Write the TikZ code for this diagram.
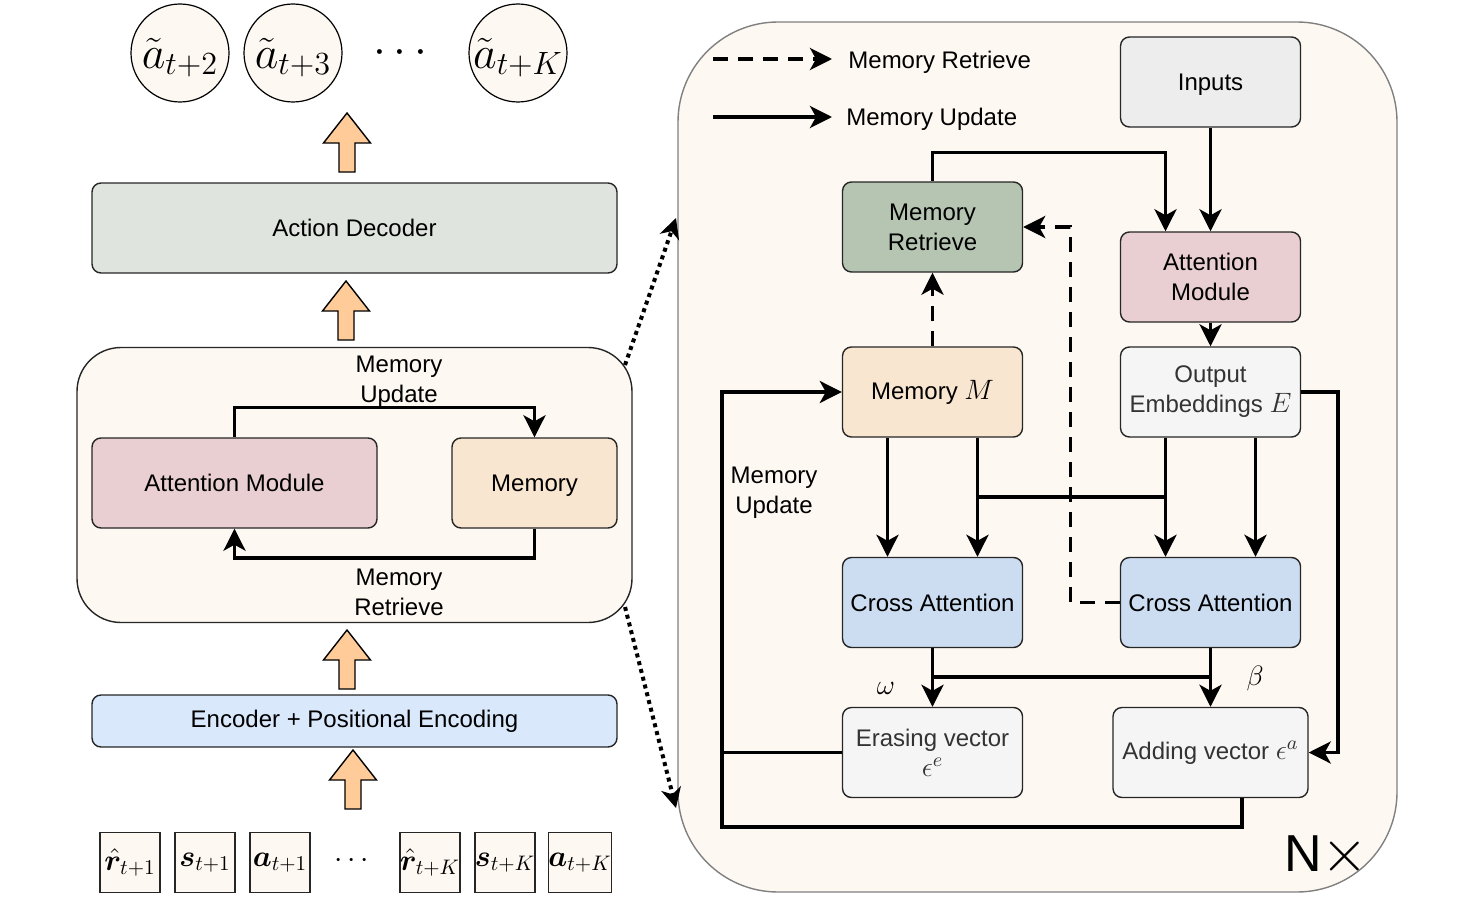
\RequirePackage{fix-cm}
\documentclass[tikz,border=0pt]{standalone}
\usepackage{amsmath}
\usepackage{bm}
\usepackage{fontspec}
\setmainfont{Liberation Sans}
\usetikzlibrary{arrows.meta}
\definecolor{cream}{HTML}{FDF8F1}
\definecolor{decfill}{HTML}{DFE5DE}
\definecolor{pinkfill}{HTML}{E9CFD2}
\definecolor{memfill}{HTML}{F9E6D0}
\definecolor{retfill}{HTML}{B5C5B2}
\definecolor{cafill}{HTML}{CCDDF2}
\definecolor{encfill}{HTML}{DAE8FC}
\definecolor{inpfill}{HTML}{EDEDED}
\definecolor{grayfill}{HTML}{F5F5F5}
\definecolor{arrfill}{HTML}{FFCC99}
\definecolor{bigedge}{HTML}{808080}
\newcommand{\boxmath}[1]{{\fontsize{14}{15}\selectfont$#1$}}
\tikzset{
  box/.style={draw=black!85, line width=0.7pt, rounded corners=4.5pt, align=center,
    font=\fontsize{12}{15}\selectfont, inner sep=0pt, minimum width=90pt, minimum height=45pt},
  token/.style={draw=black!85, line width=0.7pt, fill=cream, inner sep=0pt,
    minimum width=30pt, minimum height=30pt, font=\fontsize{15}{18}\selectfont},
  outc/.style={draw=black, line width=0.6pt, fill=cream, circle, inner sep=0pt,
    minimum size=49pt, font=\fontsize{23}{27}\selectfont, text depth=0pt},
  tip/.style={-{Stealth[length=11pt,width=11pt,inset=3pt]}},
  conn/.style={line width=1.8pt, tip},
  plain/.style={line width=1.8pt},
  dconn/.style={line width=1.8pt, dash pattern=on 7.5pt off 5pt, tip},
  dotconn/.style={line width=2pt, dash pattern=on 2pt off 2pt, -{Stealth[length=10pt,width=10pt,inset=3pt]}},
  lbl/.style={align=center, font=\fontsize{12}{15}\selectfont, inner sep=0pt},
  blockup/.pic={\draw[fill=arrfill, draw=black, line width=0.7pt]
    (0,0) -- (8,0) -- (8,-29) -- (23.5,-29) -- (0,-59) -- (-23.5,-29) -- (-8,-29) -- (-8,0) -- cycle;}
}
\begin{document}
\begin{tikzpicture}[x=0.5pt,y=-0.5pt]
\useasboundingbox (0,0) rectangle (1460,899);

% ---------- left column ----------
\node[outc] (o1) at (180,53) {$\tilde{a}_{t+2}$};
\node[outc] (o2) at (293,53) {$\tilde{a}_{t+3}$};
\node[font=\fontsize{23}{27}\selectfont, inner sep=0pt] (odots) at (404,53) {$\cdots$};
\node[outc] (o3) at (518,53) {$\tilde{a}_{t+K}$};

\pic at (347,172) {blockup};
\node[box, fill=decfill, minimum width=262.5pt, minimum height=45pt] (dec) at (354.5,228) {Action Decoder};
\pic at (346,340) {blockup};

\node[draw=black!85, line width=0.7pt, fill=cream, rounded corners=22pt, minimum width=277.5pt,
  minimum height=137.5pt, inner sep=0pt] (lbig) at (354.5,485) {};
\node[box, fill=pinkfill, minimum width=142.5pt] (latt) at (234.5,483) {Attention Module};
\node[box, fill=memfill, minimum width=82.5pt, text depth=0pt] (lmem) at (534.5,483) {Memory};
\draw[conn] (latt.north) -- ++(0,-30) -| (lmem.north);
\draw[conn] (lmem.south) -- ++(0,29) -| (latt.south);
\node[lbl] (lupd) at (399,382) {Memory\\Update};
\node[lbl] (lret) at (399,592) {Memory\\Retrieve};

\pic at (347,689) {blockup};
\node[box, fill=encfill, minimum width=262.5pt, minimum height=26pt] (enc) at (354.5,721) {Encoder + Positional Encoding};
\pic at (353,809) {blockup};

\node[token] (t1) at (130,862.5) {$\bm{\hat{r}}_{t+1}$};
\node[token] (t2) at (205,862.5) {$\bm{s}_{t+1}$};
\node[token] (t3) at (280,862.5) {$\bm{a}_{t+1}$};
\node[font=\fontsize{15}{18}\selectfont, inner sep=0pt] (tdots) at (354,861) {$\cdots$};
\node[token] (t4) at (430,862.5) {$\bm{\hat{r}}_{t+K}$};
\node[token] (t5) at (505,862.5) {$\bm{s}_{t+K}$};
\node[token] (t6) at (580,862.5) {$\bm{a}_{t+K}$};

% ---------- right panel ----------
\node[draw=bigedge, line width=0.7pt, fill=cream, rounded corners=50pt, minimum width=359.5pt,
  minimum height=435pt, inner sep=0pt] (rbig) at (1037.5,457) {};

\coordinate (d1s) at (625,365);
\coordinate (d1e) at (676,218);
\coordinate (d2s) at (625,607);
\coordinate (d2e) at (676,808);
\draw[dotconn] (d1s) -- (d1e);
\draw[dotconn] (d2s) -- (d2e);

% legend
\coordinate (lg1s) at (713,59);
\coordinate (lg1e) at (832,59);
\coordinate (lg2s) at (713,117);
\coordinate (lg2e) at (832,117);
\draw[dconn] (lg1s) -- (lg1e);
\draw[conn] (lg2s) -- (lg2e);
\node[lbl, anchor=west] (lgt1) at (848,62) {Memory Retrieve};
\node[lbl, anchor=west] (lgt2) at (846,119) {Memory Update};

\node[box, fill=inpfill, text depth=0pt] (inp) at (1210.5,82) {Inputs};
\node[box, fill=retfill] (mret) at (932.5,227) {Memory\\Retrieve};
\node[box, fill=pinkfill] (ratt) at (1210.5,277) {Attention\\Module};
\node[box, fill=memfill] (memM) at (932.5,392) {Memory \boxmath{M}};
\node[box, fill=grayfill, text=black!80] (outE) at (1210.5,392) {Output\\Embeddings \boxmath{E}};
\node[box, fill=cafill] (ca1) at (932.5,602.5) {Cross Attention};
\node[box, fill=cafill] (ca2) at (1210.5,602.5) {Cross Attention};
\node[box, fill=grayfill, text=black!80] (erase) at (932.5,752.5) {Erasing vector\\\boxmath{\epsilon^{e}}};
\node[box, fill=grayfill, text=black!80, minimum width=97.5pt] (add) at (1210.5,752.5) {Adding vector \boxmath{\epsilon^{a}}};

\draw[conn] (inp.south) -- (ratt.north);
\draw[conn] (mret.north) -- ++(0,-29) -| ([xshift=-22.5pt]ratt.north);
\draw[conn] (ratt.south) -- (outE.north);
\draw[dconn] (memM.north) -- (mret.south);
\draw[dconn] (ca2.west) -- ++(-49.5,0) |- (mret.east);

\draw[conn] ([xshift=-22.5pt]memM.south) -- ([xshift=-22.5pt]ca1.north);
\draw[conn] ([xshift=22.5pt]memM.south) -- ([xshift=22.5pt]ca1.north);
\draw[conn] ([xshift=-22.5pt]outE.south) -- ([xshift=-22.5pt]ca2.north);
\draw[conn] ([xshift=22.5pt]outE.south) -- ([xshift=22.5pt]ca2.north);
\coordinate (jm) at (977.5,497);
\coordinate (je) at (1165.5,497);
\draw[plain] (jm) -- (je);

\draw[conn] (ca1.south) -- (erase.north);
\draw[conn] (ca2.south) -- (add.north);
\coordinate (jw1) at (932.5,677);
\coordinate (jw2) at (1210.5,677);
\draw[plain] (jw1) -- (jw2);

\draw[conn] (outE.east) -- ++(37,0) |- (add.east);

\coordinate (lc) at (722,827);
\draw[plain] (erase.west) -- (erase.west -| lc);
\draw[conn] ([xshift=15.75pt]add.south) |- (lc) |- (memM.west);

\node[lbl] (rupd) at (774,493) {Memory\\Update};
\node[inner sep=0pt, font=\fontsize{14}{15}\selectfont] (om) at (886,688) {$\omega$};
\node[inner sep=0pt, font=\fontsize{14}{15}\selectfont] (be) at (1255,678) {$\beta$};
\node[inner sep=0pt, font=\fontsize{26}{30}\selectfont, anchor=west] (nx) at (1284,856) {N{\fontsize{30}{32}\selectfont$\times$}};
\end{tikzpicture}
\end{document}
